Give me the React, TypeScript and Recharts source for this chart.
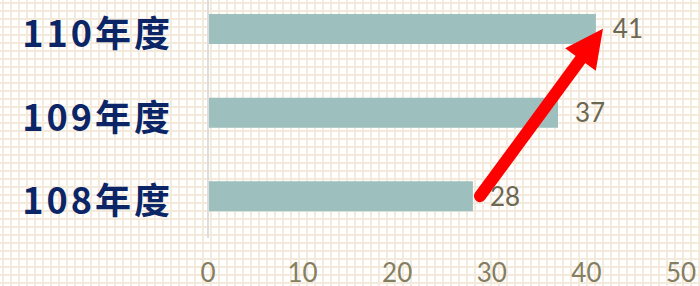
import { BarChart, Bar, XAxis, YAxis, LabelList, ReferenceLine } from "recharts";

const categories = ["110年度", "109年度", "108年度"];
const values = [41, 37, 28];
const xTicks = [0, 10, 20, 30, 40, 50];
// arrow from the end of the 108 bar up to the 110 bar
const arrowFrom = { x: 28.75, y: "108年度" };
const arrowTo = { x: 41.75, y: "110年度" };

const data = categories.map((name, i) => ({ name, value: values[i] }));

const font = "'Lato', 'Noto Sans', sans-serif";

const ArrowShape = (props: any) => {
  const { x1, y1, x2, y2 } = props;
  if ([x1, y1, x2, y2].some((v) => typeof v !== "number" || isNaN(v))) return null;
  const dx = x2 - x1;
  const dy = y2 - y1;
  const len = Math.sqrt(dx * dx + dy * dy);
  const ux = dx / len;
  const uy = dy / len;
  const headLen = 38;
  const half = 19;
  const bx = x2 - ux * headLen;
  const by = y2 - uy * headLen;
  const pts = [
    `${x2},${y2}`,
    `${bx - uy * half},${by + ux * half}`,
    `${bx + uy * half},${by - ux * half}`,
  ].join(" ");
  return (
    <g>
      <line x1={x1} y1={y1} x2={bx + ux * 2} y2={by + uy * 2} stroke="#ff0000" strokeWidth={12} strokeLinecap="round" />
      <polygon points={pts} fill="#ff0000" />
    </g>
  );
};

export default function App() {
  return (
    <div
      style={{
        position: "fixed",
        left: 0,
        top: 0,
        width: 700,
        height: 286,
        overflow: "hidden",
        backgroundColor: "#ffffff",
        backgroundImage:
          "linear-gradient(to right, #f3eadc 2px, transparent 2px), linear-gradient(to bottom, #f3eadc 2px, transparent 2px)",
        backgroundSize: "8px 8px",
        backgroundPosition: "2px 2px",
      }}
    >
      <div style={{ position: "absolute", left: 0, top: -13 }}>
        <BarChart width={700} height={299} data={data} layout="vertical" margin={{ top: 0, right: 19, bottom: 0, left: 0 }}>
          <XAxis
            type="number"
            domain={[0, 50]}
            ticks={xTicks}
            axisLine={false}
            tickLine={false}
            tickSize={0}
            tickMargin={0}
            height={48}
            interval={0}
            tick={({ x, y, payload }: any) => (
              <text x={x} y={y} dy={44} textAnchor="middle" fontSize={26} fontFamily={font} fill="#857e60">
                {payload.value}
              </text>
            )}
          />
          <YAxis
            type="category"
            dataKey="name"
            width={208}
            axisLine={{ stroke: "#dcdcdc", strokeWidth: 2 }}
            tickLine={false}
            tickSize={0}
            tickMargin={0}
            interval={0}
            tick={({ x, y, payload }: any) => (
              <text
                x={x - 35}
                y={y}
                dy={18}
                textAnchor="end"
                fontSize={36}
                fontWeight={700}
                letterSpacing={3}
                fontFamily="'Noto Sans CJK TC', 'Noto Sans', sans-serif"
                fill="#0b2566"
              >
                {payload.value}
              </text>
            )}
          />
          <Bar dataKey="value" fill="#9dbfbd" barSize={30} isAnimationActive={false}>
            <LabelList dataKey="value" position="right" offset={17} fontSize={26} fontFamily={font} fill="#6c6751" />
          </Bar>
          <ReferenceLine segment={[arrowFrom, arrowTo]} ifOverflow="visible" shape={ArrowShape} />
        </BarChart>
      </div>
    </div>
  );
}
